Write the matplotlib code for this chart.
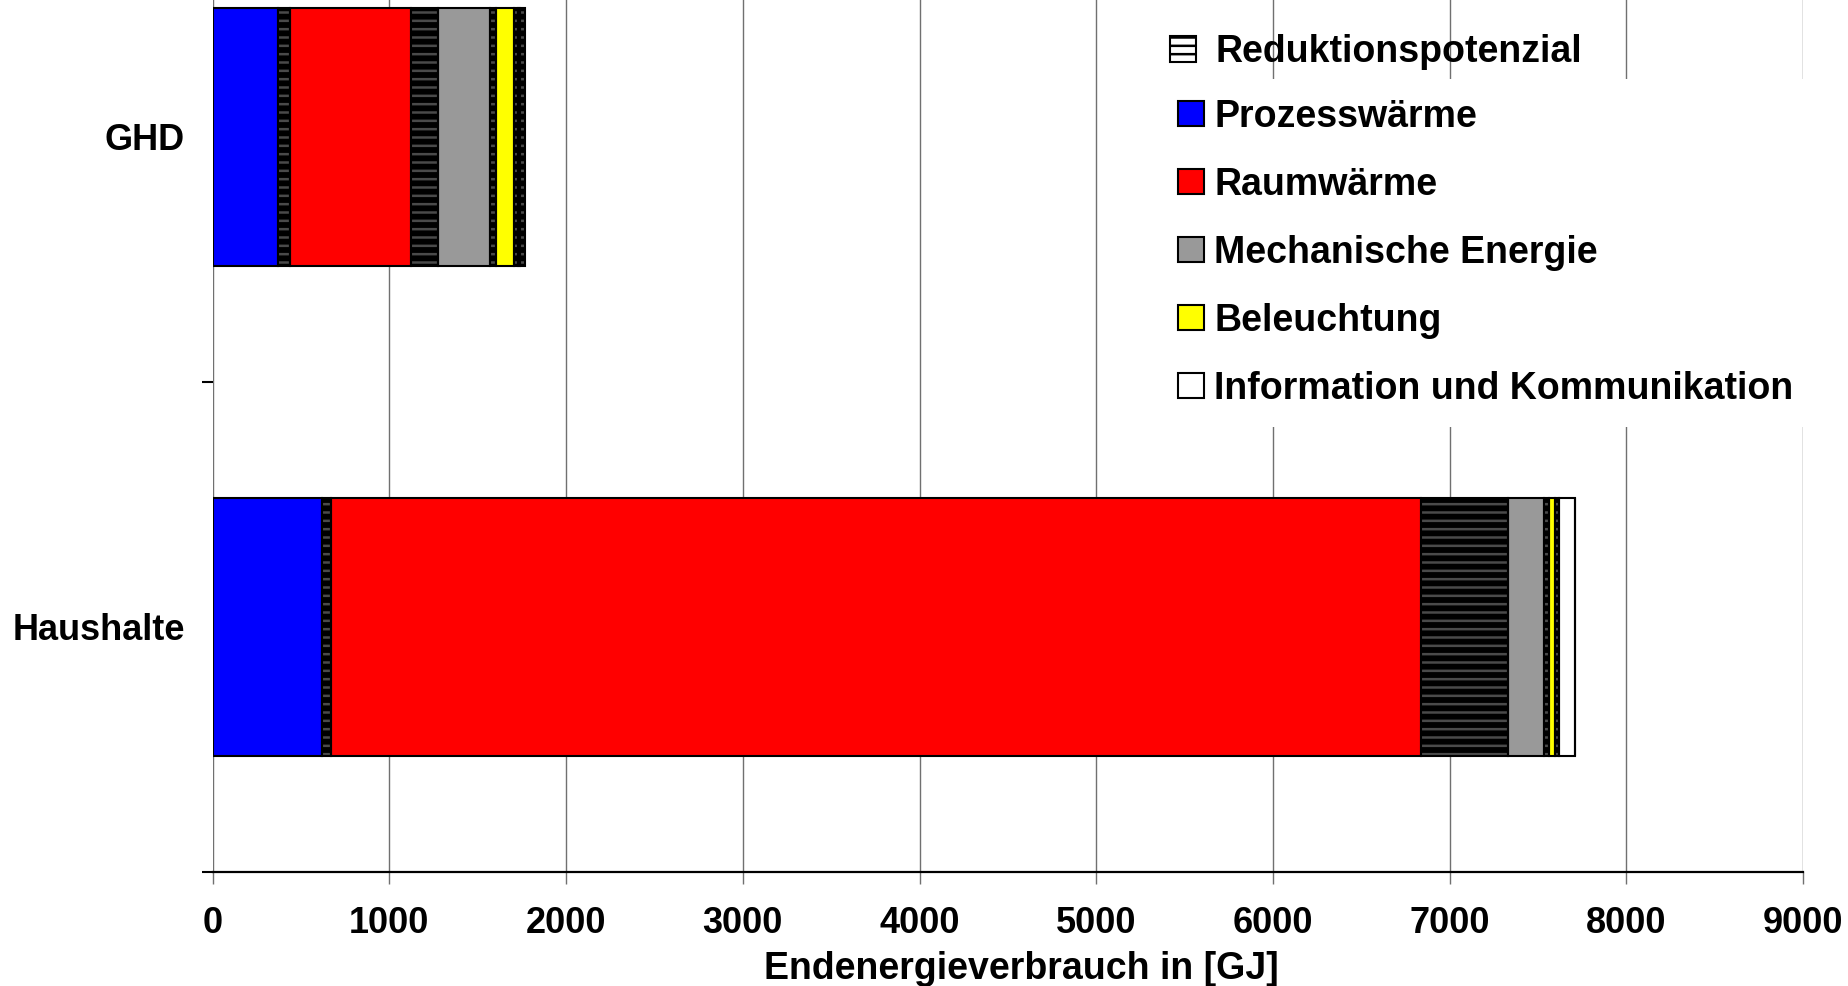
import matplotlib
matplotlib.use("Agg")
import matplotlib.pyplot as plt
from matplotlib.patches import Patch
import numpy as np

plt.rcParams['font.family'] = ['Liberation Sans', 'DejaVu Sans']
plt.rcParams['font.weight'] = 'bold'
plt.rcParams['hatch.linewidth'] = 1.8

# Sectors (bottom to top) and final energy use in GJ by purpose,
# each followed by its reduction potential
sectors = ["Haushalte", "GHD"]
purposes = ["Prozesswärme", "Raumwärme", "Mechanische Energie",
            "Beleuchtung", "Information und Kommunikation"]
colors = ["#0000ff", "#ff0000", "#999999", "#ffff00", "#ffffff"]

use_haushalte = [620, 6167, 209, 36, 90]
red_haushalte = [51, 490, 23, 21, 0]
use_ghd = [369, 682, 298, 98, 11]
red_ghd = [69, 154, 34, 23, 28]

use = np.array([use_haushalte, use_ghd], dtype=float)
red = np.array([red_haushalte, red_ghd], dtype=float)

xticks = [0, 1000, 2000, 3000, 4000, 5000, 6000, 7000, 8000, 9000]
xlabel = "Endenergieverbrauch in [GJ]"
hatch_label = "Reduktionspotenzial"

W, H = 1848, 986
fig = plt.figure(figsize=(W / 100, H / 100), dpi=100)
ax = fig.add_axes([212.7 / W, 114 / H, (1803 - 212.7) / W, 980 / H])

y = np.arange(len(sectors))
bar_h = 0.527
left = np.zeros(len(sectors))
for k in range(len(purposes)):
    ax.barh(y, use[:, k], left=left, height=bar_h, color=colors[k],
            edgecolor="black", linewidth=1.5, zorder=3)
    left = left + use[:, k]
    ax.barh(y, red[:, k], left=left, height=bar_h, color="black",
            edgecolor="#4a4a4a", linewidth=0, hatch="--", zorder=3)
    ax.barh(y, red[:, k], left=left, height=bar_h, color="none",
            edgecolor="black", linewidth=1.5, zorder=4)
    left = left + red[:, k]

ax.set_xlim(0, 9000)
ax.set_ylim(-0.5, 1.5)
ax.set_xticks(xticks)
ax.set_xticklabels([str(t) for t in xticks], fontsize=26, fontweight="bold")
ax.tick_params(axis="x", length=8.6, width=1, color="#707070", pad=16)

ax.set_yticks([-0.5, 0.5, 1.5])
ax.set_yticklabels([])
ax.tick_params(axis="y", which="major", length=8, width=1.5, color="black")
ax.set_yticks(y, minor=True)
ax.set_yticklabels(sectors, minor=True, fontsize=26, fontweight="bold")
ax.tick_params(axis="y", which="minor", length=0, pad=20)

ax.grid(axis="x", color="#707070", linewidth=1, zorder=0)
ax.set_axisbelow(True)
for s in ["left", "right", "top"]:
    ax.spines[s].set_visible(False)
ax.spines["bottom"].set_linewidth(1.6)
ax.spines["bottom"].set_color("black")

ax.set_xlabel(xlabel, fontsize=27, fontweight="bold")
ax.xaxis.set_label_coords((1021 - 212.7) / (1803 - 212.7), -(969 - 872) / 980,
                          transform=ax.transAxes)
ax.xaxis.label.set_va("center")

fs = 27
handles = [Patch(facecolor=c, edgecolor="black", linewidth=1.5) for c in colors]
leg2 = fig.legend(handles, purposes, loc="upper left",
                  bbox_to_anchor=(1157.5 / W, 1 - 78.5 / H), bbox_transform=fig.transFigure,
                  prop={"size": fs, "weight": "bold"}, frameon=True, fancybox=False,
                  framealpha=1, facecolor="white", edgecolor="none",
                  borderpad=0.55, borderaxespad=0, handlelength=0.7, handleheight=0.65,
                  handletextpad=0.27, labelspacing=0.85)
leg2.set_zorder(5)

leg1 = fig.legend([Patch(facecolor="white", edgecolor="black", hatch="--", linewidth=1.5)],
                  [hatch_label], loc="center left",
                  bbox_to_anchor=(1170 / W, 1 - 52 / H), bbox_transform=fig.transFigure,
                  prop={"size": fs, "weight": "bold"}, frameon=False,
                  borderpad=0, borderaxespad=0, handlelength=0.7, handleheight=0.68,
                  handletextpad=0.5)
leg1.set_zorder(6)

fig.savefig("out.png", dpi=100)
